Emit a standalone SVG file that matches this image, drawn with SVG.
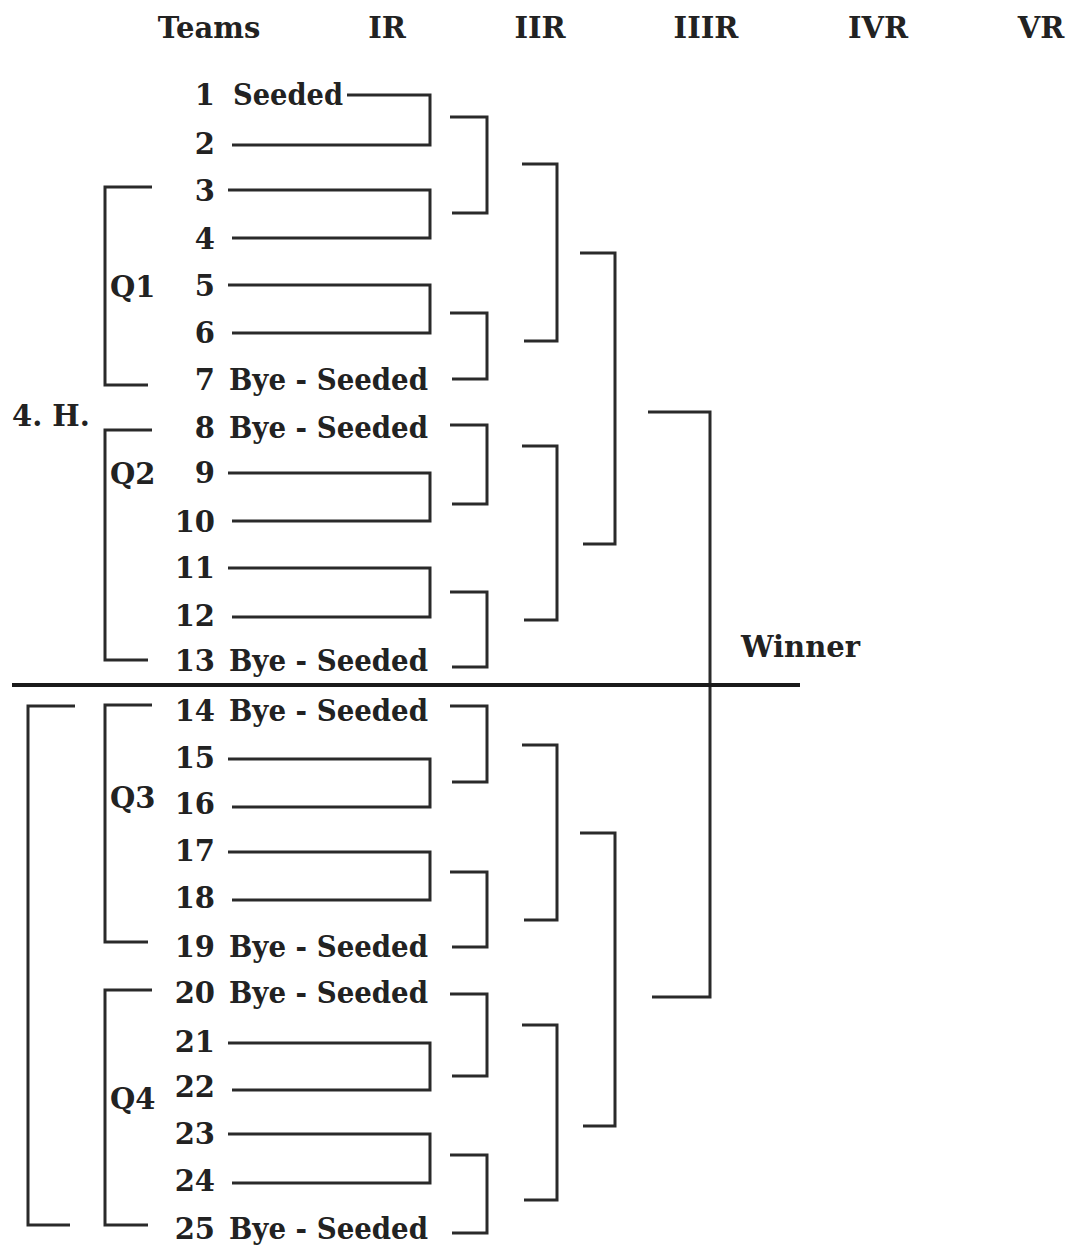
<svg xmlns="http://www.w3.org/2000/svg" width="1071" height="1247" viewBox="0 0 1071 1247">
<style>
text{font-family:"DejaVu Serif","Liberation Serif",serif;font-weight:bold;font-size:29px;fill:#222}
.n{text-anchor:end}
.h{text-anchor:middle}
.c path{fill:none;stroke:#2a2a2a;stroke-width:3}
.div{stroke:#1a1a1a;stroke-width:4}
</style>
<rect width="1071" height="1247" fill="#fff"/>
<g id="headers">
<text class="h" x="209" y="38">Teams</text>
<text class="h" x="387" y="38">IR</text>
<text class="h" x="540" y="38">IIR</text>
<text class="h" x="706" y="38">IIIR</text>
<text class="h" x="878" y="38">IVR</text>
<text class="h" x="1041" y="38">VR</text>
</g>
<g id="group-labels">
<text x="12" y="426">4. H.</text>
<text x="110" y="297">Q1</text>
<text x="110" y="484">Q2</text>
<text x="110" y="808">Q3</text>
<text x="110" y="1109">Q4</text>
<text x="741" y="657">Winner</text>
</g>
<g id="team-1"><text class="n" x="215" y="105">1</text><text x="233" y="105" textLength="110" lengthAdjust="spacingAndGlyphs">Seeded</text></g>
<g id="team-2"><text class="n" x="215" y="154">2</text></g>
<g id="team-3"><text class="n" x="215" y="201">3</text></g>
<g id="team-4"><text class="n" x="215" y="249">4</text></g>
<g id="team-5"><text class="n" x="215" y="296">5</text></g>
<g id="team-6"><text class="n" x="215" y="343">6</text></g>
<g id="team-7"><text class="n" x="215" y="390">7</text><text x="229" y="390" textLength="199" lengthAdjust="spacingAndGlyphs">Bye - Seeded</text></g>
<g id="team-8"><text class="n" x="215" y="438">8</text><text x="229" y="438" textLength="199" lengthAdjust="spacingAndGlyphs">Bye - Seeded</text></g>
<g id="team-9"><text class="n" x="215" y="483">9</text></g>
<g id="team-10"><text class="n" x="215" y="532">10</text></g>
<g id="team-11"><text class="n" x="215" y="578">11</text></g>
<g id="team-12"><text class="n" x="215" y="626">12</text></g>
<g id="team-13"><text class="n" x="215" y="671">13</text><text x="229" y="671" textLength="199" lengthAdjust="spacingAndGlyphs">Bye - Seeded</text></g>
<g id="team-14"><text class="n" x="215" y="721">14</text><text x="229" y="721" textLength="199" lengthAdjust="spacingAndGlyphs">Bye - Seeded</text></g>
<g id="team-15"><text class="n" x="215" y="768">15</text></g>
<g id="team-16"><text class="n" x="215" y="814">16</text></g>
<g id="team-17"><text class="n" x="215" y="861">17</text></g>
<g id="team-18"><text class="n" x="215" y="908">18</text></g>
<g id="team-19"><text class="n" x="215" y="957">19</text><text x="229" y="957" textLength="199" lengthAdjust="spacingAndGlyphs">Bye - Seeded</text></g>
<g id="team-20"><text class="n" x="215" y="1003">20</text><text x="229" y="1003" textLength="199" lengthAdjust="spacingAndGlyphs">Bye - Seeded</text></g>
<g id="team-21"><text class="n" x="215" y="1052">21</text></g>
<g id="team-22"><text class="n" x="215" y="1097">22</text></g>
<g id="team-23"><text class="n" x="215" y="1144">23</text></g>
<g id="team-24"><text class="n" x="215" y="1191">24</text></g>
<g id="team-25"><text class="n" x="215" y="1239">25</text><text x="229" y="1239" textLength="199" lengthAdjust="spacingAndGlyphs">Bye - Seeded</text></g>
<g id="connectors" class="c">
<!-- IR -->
<path d="M347,95 H430 V145 H232"/>
<path d="M228,190 H430 V238 H232"/>
<path d="M228,285 H430 V333 H232"/>
<path d="M228,473 H430 V521 H232"/>
<path d="M228,568 H430 V617 H232"/>
<path d="M228,759 H430 V807 H232"/>
<path d="M228,852 H430 V900 H232"/>
<path d="M228,1043 H430 V1090 H232"/>
<path d="M228,1134 H430 V1183 H232"/>
<!-- IIR -->
<path d="M450,117 H487 V213 H452"/>
<path d="M450,313 H487 V379 H452"/>
<path d="M450,425 H487 V504 H452"/>
<path d="M450,592 H487 V667 H452"/>
<path d="M450,706 H487 V782 H452"/>
<path d="M450,872 H487 V947 H452"/>
<path d="M450,994 H487 V1076 H452"/>
<path d="M450,1155 H487 V1233 H452"/>
<!-- IIIR -->
<path d="M522,164 H557 V341 H524"/>
<path d="M522,446 H557 V620 H524"/>
<path d="M522,745 H557 V920 H524"/>
<path d="M522,1025 H557 V1200 H524"/>
<!-- IVR -->
<path d="M580,253 H615 V544 H583"/>
<path d="M580,833 H615 V1126 H583"/>
<!-- VR -->
<path d="M648,412 H710 V997 H652"/>
<!-- group brackets -->
<path d="M152,187 H105 V385 H148"/>
<path d="M152,430 H105 V660 H148"/>
<path d="M152,705 H105 V942 H148"/>
<path d="M152,990 H105 V1225 H148"/>
<path d="M75,706 H28 V1225 H70"/>
<line class="div" x1="12" y1="685" x2="800" y2="685"/>
</g>
</svg>
